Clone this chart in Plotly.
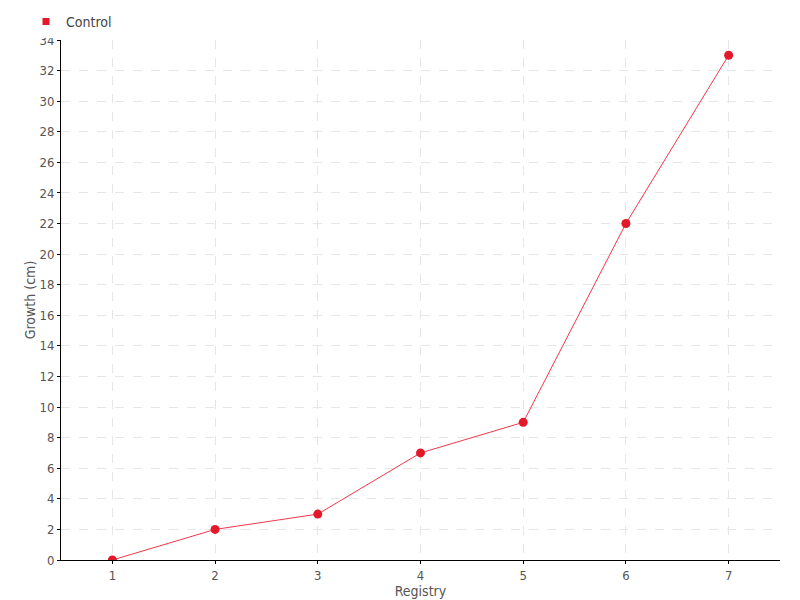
import plotly.graph_objects as go

registry = [1, 2, 3, 4, 5, 6, 7]
growth = [0, 2, 3, 7, 9, 22, 33]
series_name = "Control"

RED = "#e3192a"
FONT = "Liberation Sans Narrow, DejaVu Sans Condensed, Roboto, sans-serif"

fig = go.Figure()
fig.add_trace(
    go.Scatter(
        x=registry,
        y=growth,
        mode="lines+markers",
        name=series_name,
        showlegend=False,
        line=dict(color="#f0384a", width=1),
        marker=dict(color=RED, size=9, symbol="circle"),
    )
)
# legend-only entry with the small square swatch
fig.add_trace(
    go.Scatter(
        x=[None],
        y=[None],
        mode="markers",
        name=series_name,
        marker=dict(color=RED, size=7, symbol="square"),
    )
)

# page has an 8px body margin, so margins are offset by that
fig.update_layout(
    width=800,
    height=600,
    margin=dict(l=53, r=28, t=32, b=48, autoexpand=False),
    plot_bgcolor="white",
    paper_bgcolor="white",
    font=dict(family=FONT, color="#555555", size=13),
    showlegend=True,
    legend=dict(
        xref="container", yref="container",
        x=0.0225, y=0.977, xanchor="left", yanchor="middle",
        orientation="h", font=dict(size=14, color="#444444"),
        itemwidth=30, tracegroupgap=0,
    ),
    xaxis=dict(
        range=[0.5, 7.5],
        tickvals=registry,
        showgrid=True,
        gridcolor="#e6e6e6",
        griddash="dash",
        showline=True,
        linecolor="black",
        linewidth=1,
        ticks="outside",
        ticklen=3,
        tickcolor="black",
        ticklabelstandoff=0,
        zeroline=False,
        title=dict(text="Registry", standoff=0, font=dict(size=14)),
    ),
    yaxis=dict(
        range=[0, 34],
        dtick=2,
        showgrid=True,
        gridcolor="#e6e6e6",
        griddash="dash",
        showline=True,
        linecolor="black",
        linewidth=1,
        ticks="outside",
        ticklen=3,
        tickcolor="black",
        zeroline=False,
        title=dict(text="Growth (cm)", standoff=0, font=dict(size=14)),
    ),
)

fig.write_html("out.html")
